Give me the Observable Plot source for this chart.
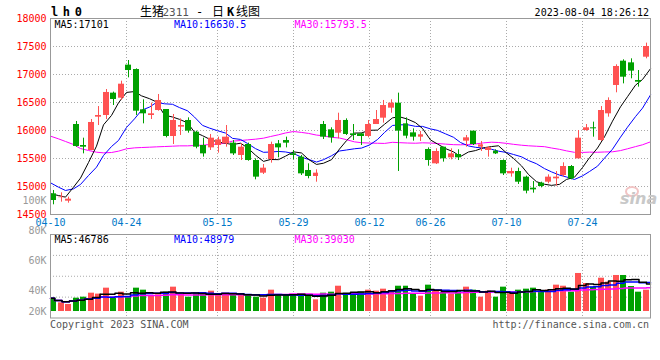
<!DOCTYPE html>
<html><head><meta charset="utf-8">
<script src="https://cdn.jsdelivr.net/npm/d3@7"></script>
<script src="https://cdn.jsdelivr.net/npm/@observablehq/plot@0.6"></script>
<style>
html,body{margin:0;padding:0;background:#fff;}
#wrap{position:relative;width:660px;height:360px;overflow:hidden;background:#fff;}
#wrap svg{position:absolute;left:0;top:0;background:none;}
</style></head><body><div id="wrap"></div>
<script>
// ---- data ----
const tickIdx    = [0, 10, 22, 32, 42, 50, 60, 70];
const tickLabels = ["04-10","04-24","05-15","05-29","06-12","06-26","07-10","07-24"];
const priceTicks = [14500,15000,15500,16000,16500,17000,17500,18000];
const volTicks   = [20000,40000,60000,80000,100000];

const open  = [14869,14800,14738,16107,15732,15643,16238,16268,16667,16577,17167,17089,16369,16268,16357,16375,15893,16060,16179,15970,15732,15690,15732,15762,15774,15554,15750,15464,15238,15482,15762,15821,15583,15524,15286,15179,16107,16012,15952,16179,15940,15940,15893,16107,16220,16399,16488,16119,15958,15881,15661,15405,15702,15512,15571,15810,15988,15702,15643,15631,15464,15226,15268,15167,14970,15060,15077,15137,15196,15357,15494,16000,16048,15821,16298,16804,17238,17208,16893,17309];
const high  = [14929,14887,14810,16161,15863,16196,16428,16732,16685,16881,17250,17101,16548,16488,16643,16375,16286,16208,16226,15988,15863,15929,15881,16089,15821,15762,15774,15494,15393,15792,15821,15881,15643,15554,15405,15298,16161,16048,16309,16208,16107,15952,16179,16357,16536,16548,16667,16226,16030,15982,15690,15673,15702,15673,15655,15911,15988,15804,15714,15655,15476,15327,15327,15185,15089,15077,15208,15268,15423,15375,16000,16107,16149,16428,16583,17173,17262,17280,17071,17560];
const low   = [14673,14720,14702,15702,15583,15640,16089,16196,16446,16536,16940,16268,16119,16196,16345,15869,15750,15911,15952,15673,15524,15643,15595,15702,15554,15464,15452,15119,15214,15417,15512,15690,15476,15196,15137,15077,15839,15774,15851,15911,15821,15732,15869,16107,16131,16309,15268,15851,15810,15804,15363,15393,15435,15476,15464,15702,15732,15625,15524,15571,15196,15167,15036,14869,14881,14976,15048,15006,15167,15119,15494,15988,15881,15804,16238,16673,16833,16923,16774,17280];
const close = [14750,14810,14774,15714,15702,16143,16268,16679,16554,16827,17071,16345,16298,16298,16536,15893,16179,16089,15988,15702,15583,15863,15833,15881,15583,15702,15464,15167,15327,15750,15690,15774,15554,15226,15179,15238,15881,15869,16179,15929,15911,15893,16107,16196,16446,16488,15988,15899,15881,15923,15464,15625,15494,15583,15512,15869,15750,15744,15690,15583,15226,15268,15077,14917,14940,15000,15167,15167,15357,15137,15863,16048,16030,16357,16536,17143,16952,17060,16863,17500];
const volume = [22600,14700,11900,22600,24300,31100,29500,39600,22600,32800,24300,39600,36200,26000,28300,32800,41300,28300,24300,31100,28300,34500,28300,31100,28300,27200,28300,24300,22600,36200,28900,27200,27200,27200,27200,19800,31100,32800,42900,28900,27200,32800,36200,34500,37900,34500,42900,42900,29500,26000,44700,36200,32800,29500,34500,41300,36200,24300,34500,24300,41300,29900,36200,37900,39600,34500,36200,44700,42900,32800,64500,47500,41300,56500,49800,61100,61100,42400,32800,36200];
// moving-average values before a full window exists
const ma5Head  = [14869,14839,14810,14988];
const ma10Head = [15066,14988,14929,14958,15036,15196,15345,15554,15714];
const ma30Head = [15899,15851,15804,15750,15678,15643,15613,15601,15607,15631,15673,15690,15696,15702,15708,15714,15720,15726,15726,15732,15738,15750,15756,15774,15810,15821,15833,15845,15863];
const priceLegend = ["MA5:17101","MA10:16630.5","MA30:15793.5"];
const volLegend   = ["MA5:46786","MA10:48979","MA30:39030"];

// ---- helpers ----
const N = close.length;
const idx = d3.range(N);
const RED = "#ff5252", GREEN = "#00a000";
const col = i => close[i] >= open[i] ? RED : GREEN;
const lx = i => i * N / (N - 1);            // lines & grid span the full frame
function ma(vals, k, head) {
  return vals.map((v, i) => i < head.length ? head[i] : d3.mean(vals.slice(i - k + 1, i + 1)));
}
function maPartial(vals, k) {
  return vals.map((v, i) => d3.mean(vals.slice(Math.max(0, i - k + 1), i + 1)));
}
const ma5 = ma(close, 5, ma5Head), ma10 = ma(close, 10, ma10Head), ma30 = ma(close, 30, ma30Head);
const vma5 = maPartial(volume, 5), vma10 = maPartial(volume, 10), vma30 = maPartial(volume, 30);
const gridX = tickIdx.slice(1).map(lx);
const tickPos = tickIdx.map(lx);
const FONT = "'DejaVu Sans Mono', monospace";
const dotted = {stroke: "#aaa", strokeDasharray: "1,2"};
const wrap = document.getElementById("wrap");

// ---- main K-line chart ----
const main = Plot.plot({
  width: 660, height: 232,
  marginTop: 18, marginBottom: 18, marginLeft: 50, marginRight: 10,
  x: {domain: [0, N], round: true},
  y: {domain: [14500, 18000]},
  color: {type: "identity"},
  style: {background: "none", fontFamily: FONT, fontSize: "10px", overflow: "visible"},
  marks: [
    Plot.ruleY(priceTicks.slice(1, -1), dotted),
    Plot.ruleX(gridX, dotted),
    Plot.line(idx, {x: lx, y: i => ma30[i], stroke: "#ff00ff", strokeWidth: 1}),
    Plot.line(idx, {x: lx, y: i => ma10[i], stroke: "#0000ff", strokeWidth: 1}),
    Plot.line(idx, {x: lx, y: i => ma5[i], stroke: "#000", strokeWidth: 1}),
    Plot.ruleX(idx, {x: i => i + 0.4, y1: i => low[i], y2: i => high[i], stroke: col}),
    Plot.rect(idx, {x1: i => i, x2: i => i + 0.8, y1: i => open[i], y2: i => close[i], fill: col}),
    Plot.frame({stroke: "#999"}),
    Plot.axisY(priceTicks, {tickSize: 0, tickPadding: 4, fill: "#ff0000", fontSize: 10, label: null,
      tickFormat: d => String(d)}),
    Plot.axisX(tickPos, {tickSize: 0, tickPadding: 4, fill: "#0078c8", fontSize: 10, label: null,
      tickFormat: d => tickLabels[tickPos.indexOf(d)]})
  ]
});
wrap.appendChild(main);

// ---- volume chart ----
const vDom = [-11000, 130600];
const vGrid = [1, 2, 3].map(k => vDom[0] + k * (vDom[1] - vDom[0]) / 4);
const vol = Plot.plot({
  width: 660, height: 360,
  marginTop: 234, marginBottom: 42.5, marginLeft: 50, marginRight: 10,
  x: {domain: [0, N], round: true, axis: null},
  y: {domain: vDom, axis: null},
  color: {type: "identity"},
  style: {background: "none", fontFamily: FONT, fontSize: "10px"},
  marks: [
    Plot.ruleY(vGrid, dotted),
    Plot.ruleX(gridX, dotted),
    Plot.rectY(idx, {x1: i => i, x2: i => i + 0.8, y: i => volume[i], fill: col}),
    Plot.line(idx, {x: lx, y: i => vma30[i], stroke: "#ff00ff", strokeWidth: 1.5, curve: "step"}),
    Plot.line(idx, {x: lx, y: i => vma10[i], stroke: "#0000ff", strokeWidth: 1.5, curve: "step"}),
    Plot.line(idx, {x: lx, y: i => vma5[i], stroke: "#000", strokeWidth: 1.5, curve: "step"}),
    Plot.frame({stroke: "#999"})
  ]
});
wrap.appendChild(vol);

// ---- volume axis labels (placed as in the reference) ----
const vAxis = Plot.plot({
  width: 660, height: 360,
  marginTop: 190, marginBottom: 40, marginLeft: 50, marginRight: 10,
  y: {type: "linear", domain: [20000, 40000, 100000], range: [311, 290.6, 200.6]},
  style: {background: "none", fontFamily: FONT, fontSize: "10px"},
  marks: [
    Plot.axisY(volTicks, {tickSize: 0, tickPadding: 4, fill: "#999", fontSize: 10, label: null,
      tickFormat: d => (d / 1000) + "K"})
  ]
});
wrap.appendChild(vAxis);

// ---- titles, legends, footer ----
const svg = d3.select(wrap).append("svg").attr("width", 660).attr("height", 360)
  .style("font-family", FONT).style("font-size", "10px");
svg.append("text").attr("x", 51).attr("y", 15.5).attr("font-weight", "bold").attr("font-size", 12)
  .attr("letter-spacing", "-1.3").text("l h 0");
const t = svg.append("text").attr("y", 15.5).attr("font-size", 12);
t.append("tspan").attr("x", 140).attr("font-family", "'Noto Sans CJK SC'").text("生猪");
t.append("tspan").attr("x", 162.5).attr("fill", "#555").attr("font-size", 11).text("2311");
t.append("tspan").attr("x", 196).text("-");
t.append("tspan").attr("x", 212).attr("font-family", "'Noto Sans CJK SC'").text("日");
t.append("tspan").attr("x", 227).attr("font-weight", "bold").text("K");
t.append("tspan").attr("x", 236).attr("font-family", "'Noto Sans CJK SC'").text("线图");
svg.append("text").attr("x", 649).attr("y", 15.7).attr("text-anchor", "end").text("2023-08-04 18:26:12");
const legendX = [54.5, 174, 294.5], legendC = ["#000", "#0000ff", "#ff00ff"];
priceLegend.forEach((s, k) => svg.append("text").attr("x", legendX[k]).attr("y", 27.8).attr("fill", legendC[k]).text(s));
volLegend.forEach((s, k) => svg.append("text").attr("x", legendX[k]).attr("y", 242.8).attr("fill", legendC[k]).text(s));
svg.append("text").attr("x", 50).attr("y", 327.5).attr("fill", "#555").text("Copyright 2023 SINA.COM");
svg.append("text").attr("x", 649).attr("y", 327.5).attr("fill", "#555").attr("text-anchor", "end").text("http://finance.sina.com.cn");
// watermark
svg.append("ellipse").attr("cx", 632).attr("cy", 191.5).attr("rx", 6).attr("ry", 4.5)
  .attr("fill", "none").attr("stroke", "#f2c4c4").attr("stroke-width", 2);
svg.append("text").attr("x", 620).attr("y", 204).attr("font-family", "'DejaVu Sans'").attr("font-size", 16)
  .attr("font-weight", "bold").attr("font-style", "italic").attr("fill", "#c8c8c8").text("sina");
</script></body></html>
